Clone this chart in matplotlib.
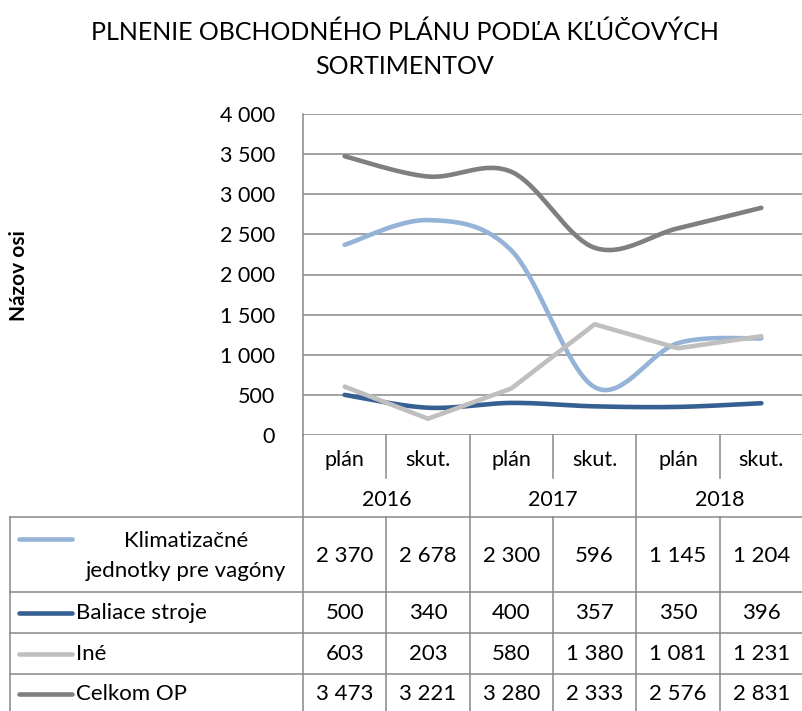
import numpy as np
import matplotlib
matplotlib.use("Agg")
import matplotlib.pyplot as plt
from matplotlib.lines import Line2D

plt.rcParams['font.family'] = ['Lato', 'DejaVu Sans']

title = "PLNENIE OBCHODNÉHO PLÁNU PODĽA KĽÚČOVÝCH\nSORTIMENTOV"
ylabel = "Názov osi"
years = ["2016", "2017", "2018"]
subcats = ["plán", "skut.", "plán", "skut.", "plán", "skut."]
series_names = ["Klimatizačné\njednotky pre vagóny", "Baliace stroje", "Iné", "Celkom OP"]
klimat = [2370, 2678, 2300, 596, 1145, 1204]
baliace = [500, 340, 400, 357, 350, 396]
ine = [603, 203, 580, 1380, 1081, 1231]
celkom = [3473, 3221, 3280, 2333, 2576, 2831]
series = [klimat, baliace, ine, celkom]
colors = ["#95B3D7", "#376092", "#BFBFBF", "#7F7F7F"]
smooth = [True, True, False, True]
yticks = [0, 500, 1000, 1500, 2000, 2500, 3000, 3500, 4000]

W, H = 803, 711
fig = plt.figure(figsize=(W / 100, H / 100), dpi=100)

def fx(px):
    return px / W

def fy(py):
    return 1 - py / H

FS = 15.5
L, R, T, B = 303, 803, 114, 435
ax = fig.add_axes([fx(L), fy(B), (R - L) / W, (B - T) / H])
ax.set_xlim(-0.5, 5.5)
ax.set_ylim(0, 4000)
grid_c = "#878787"
for s in ["top", "right", "bottom"]:
    ax.spines[s].set_visible(False)
ax.spines["left"].set_color(grid_c)
ax.spines["left"].set_linewidth(1.1)
ax.set_yticks(yticks)
ax.set_yticklabels([f"{v:,}".replace(",", " ") for v in yticks], fontsize=FS)
ax.tick_params(axis="y", length=0, pad=20)
ax.set_xticks([])
for v in yticks:
    ax.axhline(v, color=grid_c, lw=1.1, zorder=1)


def bezier_smooth(xs, ys, n=40):
    xs = np.asarray(xs, float)
    ys = np.asarray(ys, float)
    P = np.column_stack([xs, ys])
    m = len(P)
    out = []
    for i in range(m - 1):
        p0 = P[i - 1] if i > 0 else P[i]
        p1 = P[i]
        p2 = P[i + 1]
        p3 = P[i + 2] if i + 2 < m else P[i + 1]
        c1 = p1 + (p2 - p0) / 6.0
        c2 = p2 - (p3 - p1) / 6.0
        t = np.linspace(0, 1, n)[:, None]
        seg = ((1 - t) ** 3) * p1 + 3 * ((1 - t) ** 2) * t * c1 + 3 * (1 - t) * t ** 2 * c2 + t ** 3 * p2
        if i > 0:
            seg = seg[1:]
        out.append(seg)
    out = np.vstack(out)
    return out[:, 0], out[:, 1]

x = np.arange(len(subcats))
for vals, c, sm in zip(series, colors, smooth):
    if sm:
        xs, ys = bezier_smooth(x, vals)
    else:
        xs, ys = x, np.asarray(vals, float)
    ax.plot(xs, ys, color=c, lw=3.3, solid_capstyle="round", solid_joinstyle="round", zorder=3)

fig.text(fx(19), fy(276), ylabel, rotation=90, ha="center", va="center",
         fontsize=15, fontweight="bold")

fig.text(fx(405), fy(20), title, ha="center", va="top", fontsize=18, linespacing=1.6)

# overlay for category axis and table
ov = fig.add_axes([0, 0, 1, 1])
ov.set_xlim(0, W)
ov.set_ylim(H, 0)
ov.axis("off")
ov.patch.set_visible(False)
colw = (R - L) / 6.0
colx = [L + colw * i for i in range(7)]

def vline(xp, y0, y1):
    ov.add_line(Line2D([xp, xp], [y0, y1], color=grid_c, lw=1.1))

def hline(yp, x0, x1):
    ov.add_line(Line2D([x0, x1], [yp, yp], color=grid_c, lw=1.1))

for i, xp in enumerate(colx):
    if i % 2 == 0:
        vline(xp, B, H)
    else:
        vline(xp, B, 478)
        vline(xp, 517, H)

rows_y = [517, 592, 633, 674]
for yp in rows_y:
    hline(yp, 10, W)
vline(10, 517, H)

for i, s in enumerate(subcats):
    ov.text(colx[i] + colw / 2, 460, s, ha="center", va="center", fontsize=FS)
for j, yv in enumerate(years):
    ov.text(colx[2 * j] + colw, 500, yv, ha="center", va="center", fontsize=FS)

row_centers = [556, 613, 654, 694]
legend_line_y = [539, 613, 654, 694]
for k, (name, vals, c) in enumerate(zip(series_names, series, colors)):
    ov.add_line(Line2D([19, 72], [legend_line_y[k], legend_line_y[k]], color=c, lw=3.3, solid_capstyle="round"))
    if k == 0:
        ov.text(186, row_centers[k], name, ha="center", va="center", fontsize=16, linespacing=1.65)
    else:
        ov.text(76, row_centers[k], name, ha="left", va="center", fontsize=16)
    for i, v in enumerate(vals):
        ov.text(colx[i] + colw / 2, row_centers[k], f"{v:,}".replace(",", " "),
                ha="center", va="center", fontsize=16)

fig.savefig("out.png", dpi=100)
